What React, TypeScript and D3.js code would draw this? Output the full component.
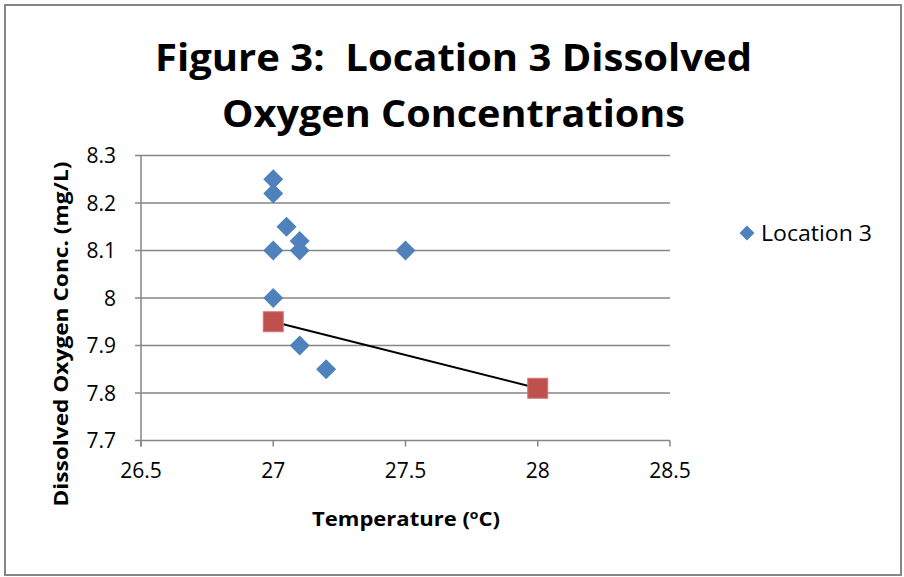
import React from 'react'
import * as d3 from 'd3'

// Location 3 measurements (temperature degC, dissolved oxygen mg/L)
const tempValues = [27, 27, 27.05, 27.1, 27.1, 27, 27.5, 27, 27.1, 27.2]
const oxygenValues = [8.25, 8.22, 8.15, 8.12, 8.1, 8.1, 8.1, 8.0, 7.9, 7.85]

// the red square series joined by a line
const lineTemps = [27, 28]
const lineOxygen = [7.95, 7.81]

const xTicks = [26.5, 27, 27.5, 28, 28.5]
const yTicks = [7.7, 7.8, 7.9, 8.0, 8.1, 8.2, 8.3]

const titleLines = ['Figure 3:  Location 3 Dissolved', 'Oxygen Concentrations']
const seriesName = 'Location 3'

const W = 904
const H = 577
const FONT = '"Open Sans", Lato, sans-serif'

const App = () => {
    const x = d3.scaleLinear().domain([26.5, 28.5]).range([141, 670])
    const y = d3.scaleLinear().domain([7.7, 8.3]).range([440.5, 155.5])

    const points = tempValues.map((t, i) => ({ x: t, y: oxygenValues[i] }))
    const squares = lineTemps.map((t, i) => ({ x: t, y: lineOxygen[i] }))

    const linePath = d3.line<{ x: number, y: number }>()
        .x(d => x(d.x))
        .y(d => y(d.y))(squares)

    const diamond = d3.symbol().type(d3.symbolSquare).size(200)()

    const fmt = (v: number) => d3.format('')(+v.toFixed(1))

    return (
        <svg width={W} height={H} style={{ position: 'absolute', left: 0, top: 0 }}>
            <rect x={0} y={0} width={W} height={H} fill="white" />
            <rect x={5} y={5} width={896} height={570} fill="white" stroke="#868686" strokeWidth={2} />

            {titleLines.map((t, i) => (
                <text key={`title-${i}`} x={453.5} y={71 + i * 56} textAnchor="middle" xmlSpace="preserve"
                      fontFamily={FONT} fontWeight="bold" fontSize={38}
                      textLength={i === 0 ? 597 : 463} lengthAdjust="spacingAndGlyphs" fill="black">{t}</text>
            ))}

            {/* gridlines */}
            {yTicks.map(v => (
                <line key={`grid-${v}`} x1={x(26.5) - 6} x2={x(28.5)} y1={y(v)} y2={y(v)} stroke="#868686" strokeWidth={1.5} />
            ))}
            {/* axes */}
            <line x1={x(26.5)} x2={x(26.5)} y1={y(8.3)} y2={y(7.7) + 6} stroke="#868686" strokeWidth={1.5} />
            {xTicks.map(v => (
                <line key={`xt-${v}`} x1={x(v)} x2={x(v)} y1={y(7.7)} y2={y(7.7) + 6} stroke="#868686" strokeWidth={1.5} />
            ))}

            {yTicks.map(v => (
                <text key={`yl-${v}`} x={116} y={y(v) + 7.5} textAnchor="end" fontFamily={FONT} fontSize={21} fill="black">{fmt(v)}</text>
            ))}
            {xTicks.map(v => (
                <text key={`xl-${v}`} x={x(v)} y={478} textAnchor="middle" fontFamily={FONT} fontSize={21} fill="black">{fmt(v)}</text>
            ))}

            <text x={406} y={526} textAnchor="middle" fontFamily={FONT} fontWeight="bold" fontSize={19} fill="black"
                  textLength={188} lengthAdjust="spacingAndGlyphs">
                Temperature (<tspan fontSize={12} dy={-7}>o</tspan><tspan dy={7}>C)</tspan>
            </text>
            <text transform="translate(68,334) rotate(-90)" textAnchor="middle" fontFamily={FONT} fontWeight="bold" fontSize={19} fill="black"
                  textLength={345} lengthAdjust="spacingAndGlyphs">
                Dissolved Oxygen Conc. (mg/L)
            </text>

            {/* data */}
            {points.map((p, i) => (
                <path key={`pt-${i}`} d={diamond ?? ''} transform={`translate(${x(p.x)},${y(p.y)}) rotate(45)`} fill="#4F81BD" />
            ))}
            <path d={linePath ?? ''} fill="none" stroke="black" strokeWidth={2} />
            {squares.map((p, i) => (
                <rect key={`sq-${i}`} x={x(p.x) - 10} y={y(p.y) - 10} width={20} height={20} fill="#C0504D" stroke="#D07a78" strokeWidth={1} />
            ))}

            {/* legend */}
            <path d={d3.symbol().type(d3.symbolSquare).size(110)() ?? ''} transform="translate(747,233) rotate(45)" fill="#4F81BD" />
            <text x={761} y={241} fontFamily={FONT} fontSize={21} fill="black"
                  textLength={111} lengthAdjust="spacingAndGlyphs">{seriesName}</text>
        </svg>
    )
}

export default App
